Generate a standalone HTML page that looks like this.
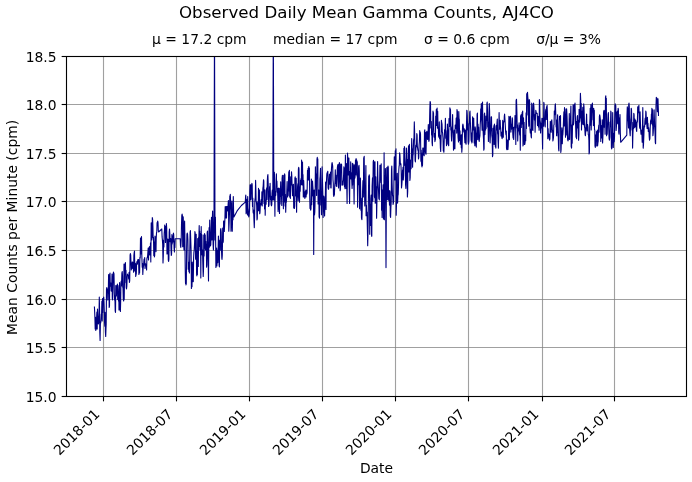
<!DOCTYPE html>
<html lang="en"><head><meta charset="utf-8"><title>Observed Daily Mean Gamma Counts, AJ4CO</title>
<style>
html,body{margin:0;padding:0;background:#fff;}
body{width:692px;height:482px;overflow:hidden;}
svg{display:block;}
text{font-family:"DejaVu Sans","Liberation Sans",sans-serif;fill:#000;}
.t10{font-size:13.889px;}
.t12{font-size:16.667px;}
.grid line{stroke:#808080;stroke-width:1.11;stroke-opacity:0.75;}
.tick line{stroke:#000;stroke-width:1.11;}
</style></head><body>
<svg width="692" height="482" viewBox="0 0 692 482">
<rect x="0" y="0" width="692" height="482" fill="#ffffff"/>
<defs><clipPath id="ax"><rect x="66.5" y="56.5" width="620" height="340"/></clipPath></defs>

<g class="grid">
<line x1="103.5" y1="56.5" x2="103.5" y2="396.5"/>
<line x1="176.5" y1="56.5" x2="176.5" y2="396.5"/>
<line x1="249.5" y1="56.5" x2="249.5" y2="396.5"/>
<line x1="322.5" y1="56.5" x2="322.5" y2="396.5"/>
<line x1="395.5" y1="56.5" x2="395.5" y2="396.5"/>
<line x1="468.5" y1="56.5" x2="468.5" y2="396.5"/>
<line x1="542.5" y1="56.5" x2="542.5" y2="396.5"/>
<line x1="614.5" y1="56.5" x2="614.5" y2="396.5"/>
<line x1="66.5" y1="347.5" x2="686.5" y2="347.5"/>
<line x1="66.5" y1="299.5" x2="686.5" y2="299.5"/>
<line x1="66.5" y1="250.5" x2="686.5" y2="250.5"/>
<line x1="66.5" y1="201.5" x2="686.5" y2="201.5"/>
<line x1="66.5" y1="153.5" x2="686.5" y2="153.5"/>
<line x1="66.5" y1="104.5" x2="686.5" y2="104.5"/>
</g>
<g clip-path="url(#ax)"><polyline fill="none" stroke="#000080" stroke-width="1.11" stroke-linejoin="round" stroke-linecap="butt" points="94.4,306.5 94.7,312.7 94.9,317.5 95.2,329 95.5,317.4 95.8,330.5 96.1,329 96.3,319.1 96.6,318 96.9,312.1 97.2,329 97.5,309 97.8,315.6 98.1,318.6 98.4,324 98.7,322.1 99,317 99.3,297 99.6,311.2 99.8,332.6 100.1,340.5 100.4,323.3 100.7,322.9 101,320 101.3,314 101.6,314 101.9,301.3 102.2,321 102.5,298.5 102.8,312.5 103.1,298.5 103.4,298.7 103.7,297 104,302.6 104.2,308.6 104.5,321.5 104.8,326.1 105.1,312.2 105.4,331.8 105.7,336.5 106,328.1 106.2,324 106.5,289 106.8,287.5 107.1,289 107.5,289 107.8,300 108,289 108.3,293 108.6,274.5 108.9,278.7 109.2,307.5 109.5,306 109.7,274.5 110,273 110.3,286.3 110.6,285.6 110.9,283.1 111.2,291 111.5,291.1 111.7,286.3 112,274 112.3,298.5 112.6,300 112.9,287.8 113.2,273.9 113.5,272 113.8,273.5 114,274.2 114.3,292.5 114.6,300 114.9,295.7 115.2,311 115.5,312.5 115.8,285.5 116.1,288.4 116.4,296 116.7,285.5 117.1,285.5 117.4,284 117.7,299.5 118,285.5 118.2,293.2 118.5,301 118.8,291.4 119,310 119.3,290 119.6,282.5 119.8,310 120.1,297.9 120.4,311.5 120.7,299.7 120.9,284.3 121.2,281 121.5,285.9 121.9,273 122.2,271.5 122.5,276 122.7,286.9 123,288 123.3,299.5 123.7,301 124,264 124.2,299.5 124.5,280 124.8,282.7 125.1,264 125.4,262.5 125.7,272.7 126,270.3 126.2,287.5 126.5,289 126.8,286.5 127.2,276.5 127.5,274 127.8,275.5 128.1,275.5 128.4,275.6 128.7,279 129.1,272.4 129.4,282.5 129.7,281 130.1,255 130.4,253.5 130.7,255 131,263.2 131.3,270 131.6,266.6 131.9,268.5 132.2,262.1 132.5,262 132.8,262.6 133,268.5 133.3,268 133.6,272.1 133.9,255.6 134.2,252.5 134.5,251 134.8,270.9 135.1,267.5 135.4,263.2 135.7,276.5 136,275 136.3,273.7 136.6,264 136.9,261.5 137.1,261.5 137.4,264.3 137.7,260 138,259.5 138.3,259.5 138.6,259.5 138.9,274.5 139.2,264.8 139.6,273 139.9,257.4 140.2,258 140.5,238.1 140.8,254 141.2,242.5 141.5,236.5 141.8,254.3 142.2,267.3 142.5,263.3 142.8,274.5 143.1,268.9 143.5,265.7 143.8,262 144.1,259 144.4,265 144.7,257.5 145,268.5 145.3,263.5 145.6,264 145.9,264.3 146.3,266.1 146.6,270 146.9,258.5 147.3,257.5 147.6,256 147.9,252.1 148.2,248 148.5,260 148.8,249.7 149.2,248 149.5,246.5 149.8,255 150.2,254.9 150.5,242.8 150.8,262 151.2,222.9 151.5,240 151.8,232.4 152,237.8 152.3,217.5 152.6,219 152.9,226.8 153.2,240 153.5,237.4 153.8,255.5 154.1,241.7 154.4,257 154.7,255.5 155,236 155.3,237.4 155.7,245 156,251.6 156.2,238.8 156.5,232.8 156.8,232 157.1,222.5 157.4,222.5 157.7,221 158,222.5 158.3,230.5 158.6,232 161.8,229 162.1,236.9 162.4,240 162.7,244.2 163,263 163.3,255.9 163.6,240 163.9,246.9 164.2,233.5 164.5,230 164.7,225 165,228 165.3,226.2 165.5,242.5 165.8,236 166.1,235.6 166.4,223.5 166.7,228.6 167,254 167.3,253.7 167.5,239.1 167.8,240 168.1,239.2 168.3,260 168.6,261.5 168.9,259.3 169.2,232.2 169.5,229 169.8,233.5 170.1,241.6 170.4,240 170.7,238.6 171,249.1 171.3,255.5 171.6,254 171.9,234.5 172.2,243.9 172.5,236 172.8,242.3 173.1,239 173.4,233 173.7,234.5 174.1,248.3 174.4,252 174.7,241.1 174.9,247.4 175.2,238.7 180.2,238.7 180.5,246 180.8,247.5 181.2,239.3 181.5,225 181.8,215.5 182.1,214 182.4,215.5 182.7,246.8 183,240 183.2,216.8 183.5,225 183.8,245.8 184,250 184.3,244.1 184.6,221 184.9,239.1 185.2,267 185.5,283.5 185.7,280.3 186,285 186.3,283.5 186.6,250 186.9,234.5 187.2,233 187.6,234.5 187.9,240 188.2,269.2 188.6,262 188.9,271.5 189.1,263.2 189.4,273 189.7,257.9 190.1,232 190.4,230.5 190.7,238.8 191.1,251.1 191.4,288.5 191.7,275.7 192,286.8 192.3,262 192.6,269.5 193,281.7 193.3,281.5 193.6,258.1 193.9,252.5 194.2,250 194.6,242.9 194.9,231.5 195.2,233 195.6,259.2 195.9,236 196.2,234.3 196.6,274.5 196.9,276 197.2,250.2 197.4,274.5 197.7,238.5 198,245 198.3,266.4 198.6,237.4 198.9,236.7 199.2,225.5 199.5,246.4 199.7,231 200,250 200.3,241.3 200.5,233.6 200.8,278 201.2,226.5 201.5,254.8 201.9,234.8 202.2,255 202.5,249.7 202.8,262 203.2,276.5 203.5,270 203.8,235 204.1,255.9 204.3,236.1 204.6,233.5 204.9,248.2 205.2,235 205.5,250 205.8,241.2 206,248.5 206.3,244 206.6,267.2 206.9,264.6 207.2,232.5 207.5,231 207.8,248.5 208.2,262.6 208.5,281 208.8,243.8 209.1,227.6 209.4,247.3 209.7,220 210,232.8 210.2,234.9 210.5,246 210.8,244.5 211.2,228 211.5,217.2 211.8,240 212.1,239.8 212.3,220.8 212.6,211 212.9,223.1 213.1,244.5 213.4,250 213.7,240.2 214,225 214.5,20 215,240 215.4,217 215.7,246.6 215.9,267.5 216.2,262.1 216.6,248 216.9,266 217.2,261 217.5,250.4 217.8,262.6 218.1,250.7 218.4,236 218.7,241.4 219.1,265.5 219.4,267 219.7,240.9 220,240 220.3,250.2 220.5,230 220.8,228.5 221.2,232.3 221.5,250 221.8,258 222,259.5 222.3,255.3 222.7,228 223,242.6 223.3,241.1 223.6,221 224,221 224.3,231.5 224.6,226 224.9,219.5 225.2,206.5 225.5,218 225.8,218 226.2,206.5 226.5,218 226.8,206.5 227.1,210 227.4,206.5 227.8,211 228.1,205 228.4,200.5 228.8,231.3 229.2,222.1 229.5,212 229.8,195.8 230,208.9 230.3,194.3 230.7,204.2 231,231.3 231.3,221.8 231.6,208 231.9,201 232.3,231.3 232.6,215.5 233,219.7 233.3,196.6 233.6,212.1 233.9,217 237.1,210.9 241.4,205.5 245.3,202.2 245.6,196.5 245.8,195 246.1,213.8 246.4,212.3 246.6,212.3 246.9,199.9 247.2,199 247.5,214.9 247.7,196.5 248,208 248.3,210.3 248.5,215.5 248.8,217 249.1,215.5 249.5,211 249.8,191.5 250.1,184.8 250.5,184.8 250.8,200 251.1,198.5 251.4,184.8 251.6,185.8 251.9,183.3 252.2,184.8 252.5,206.4 252.8,198 253.1,212.2 253.3,213.1 253.6,210 253.9,219 254.3,227.6 254.6,216.4 254.9,200.2 255.3,197.2 255.6,180.4 255.9,190.9 256.1,200.9 256.4,202 256.7,205.8 257,220 257.3,218.5 257.6,203 257.9,201.6 258.2,210.6 258.5,188.4 258.8,210.6 259.1,190.7 259.4,189.9 259.7,213.8 260,212.3 260.4,203.4 260.7,205 261,201 261.3,199.4 261.6,204.9 261.9,191.7 262.2,206 262.5,198.3 262.9,188 263.2,186.1 263.5,179.7 263.8,181.2 264,203.5 264.3,200 264.6,209 264.9,189.8 265.2,215.2 265.5,200.6 265.8,203.5 266.1,204.3 266.4,191 266.7,187.7 267,199.6 267.3,181.4 267.6,176.1 267.9,174.6 268.2,183.7 268.6,206.5 269,205 269.3,196 269.6,186.6 269.8,194.7 270.1,183.3 270.5,199.7 270.8,196 271.1,204.3 271.5,205.8 271.8,204.3 272,193.3 272.3,190 272.6,194.9 272.8,200 273.3,20 273.8,200 274.1,180 274.4,172.4 274.6,188.1 274.9,216.3 275.2,191.5 275.5,195.8 275.8,195 276.1,179.2 276.4,173.9 276.6,186.3 276.9,181.1 277.2,192.1 277.5,188.3 277.8,198 278.1,211.6 278.3,203 278.6,188 278.9,209.1 279.2,197.7 279.5,213.5 279.8,188.4 280.1,204.1 280.4,193.3 280.7,181.8 281,195.3 281.2,196.3 281.5,196 281.8,205.5 282.1,178.4 282.4,175.3 282.7,195.1 283.1,185.9 283.4,208.7 283.7,175.4 284,185.6 284.3,201.9 284.6,173.9 284.9,175.4 285.1,205.9 285.4,194.2 285.7,212.3 286,201.9 286.2,202.7 286.5,199.9 286.8,192 287.1,181.5 287.3,196.9 287.6,197 287.9,195.5 288.2,195.4 288.5,180 288.8,171.7 289.1,191 289.4,170.2 289.7,197 290.1,197 290.4,198.5 290.7,176.9 291,185 291.3,184 291.5,171.7 291.8,176 292.1,187.1 292.5,195.7 292.8,195 293.1,185.2 293.4,184.2 293.7,208 294,207 294.4,208.5 294.7,205.9 294.9,178.3 295.2,176.8 295.5,182.9 295.9,196 296.2,178.3 296.6,212.3 296.9,192.9 297.3,197 297.6,186 297.9,183.6 298.1,200.5 298.4,168.8 298.7,167.3 299,168.8 299.2,196.7 299.5,202.2 299.8,186.8 300.2,191.3 300.5,180 300.8,184.8 301.1,178.2 301.3,184.8 301.6,160 301.9,183.5 302.2,185 302.5,162.1 302.7,177.3 303,174.6 303.3,197 303.7,180.5 304,190 304.3,197 304.6,195.1 304.9,198.5 305.2,191.5 305.5,197 305.8,190 306.1,197 306.5,190.2 306.8,194.2 307.1,192.7 307.5,170.3 307.8,180 308.1,168.3 308.5,180 308.8,166.6 309.1,176.8 309.4,168.1 309.7,195 310,208.5 310.4,208.7 310.7,210.2 311,208.7 311.4,179 311.7,204.7 311.9,184.6 312.2,196 312.5,181 312.8,186 313.1,190 313.5,200 313.7,254.5 313.9,217.4 314.2,190 314.5,214.9 314.8,211.8 315.1,201.1 315.4,166.8 315.7,180.9 316,173.8 316.3,185 316.6,195.5 317,159 317.3,157.4 317.6,178.3 317.8,158.9 318.1,204 318.5,190 318.8,190 319.1,216.7 319.5,218.2 319.9,179.1 320.2,176 320.5,168.3 320.9,205 321.2,192.6 321.5,214.8 321.8,201.5 322.1,166.8 322.4,178.4 322.8,193.6 323.1,217.5 323.5,204.9 323.8,196 324.1,197.5 324.3,209.9 324.6,216 325,202.4 325.3,198 325.6,182.1 326,209.5 326.2,185.9 326.5,180.6 326.8,174.6 327.1,172.7 327.5,172.7 327.8,171.2 328.1,187.8 328.5,189.3 328.8,187.8 329.1,179.2 329.4,174.2 329.7,184.2 330,174.1 330.3,175 330.6,172.1 330.8,187.8 331.1,188 331.4,169.9 331.8,164.2 332.1,162.5 332.4,164 332.7,166.4 333,180 333.3,183.2 333.5,195 333.8,196.5 334.1,195 334.4,195 334.7,186 335,182 335.3,169.8 335.6,183.4 335.9,175 336.2,186 336.5,180.8 336.8,186.5 337.1,175.8 337.4,167.3 337.7,165.4 338,164.5 338.3,180.2 338.6,188 338.9,180.6 339.1,164 339.4,162.5 339.8,171.4 340.1,190.8 340.4,189.3 340.7,164 341,170.6 341.3,164 341.6,164.7 341.9,185.1 342.1,180.9 342.4,185 342.7,185 343,184.9 343.3,179.9 343.6,175.4 343.9,166.8 344.2,168.3 344.5,186.4 344.8,187 345.1,188.8 345.4,155.1 345.7,185.7 346,170 346.3,188.5 346.6,163.5 346.8,187.9 347.1,203.4 347.5,153.1 347.9,159.4 348.2,175 348.5,158.3 348.9,158 349.2,186.8 349.6,203.4 349.9,171.5 350.1,178.8 350.4,176 350.7,161.8 351,179 351.2,172.7 351.5,172.9 351.8,182 352.1,188.4 352.4,163.3 352.6,185 352.9,163.8 353.2,164.7 353.5,166.2 353.8,184.5 354.1,204 354.4,174.5 354.6,164.7 354.9,178.3 355.2,175 355.5,160.1 355.8,174.8 356.1,158.6 356.4,160.1 356.7,160.1 357,176 357.3,161.8 357.6,207.3 358,183.2 358.3,185 358.6,166.9 359,165.4 359.3,171.4 359.6,208.8 359.9,179.3 360.1,185.4 360.4,178 360.7,191.7 360.9,210.3 361.2,198 361.5,218.2 361.9,219.7 362.2,209.2 362.6,190 362.9,181.4 363.1,180.4 363.4,197 363.7,157.8 363.9,157.8 364.2,156.3 364.5,189.2 364.8,206 365.1,192.4 365.3,199.1 365.6,185 365.9,165.5 366.1,215.8 366.4,205 366.7,214.4 367,212 367.4,229.7 367.7,245.8 368,231.5 368.4,200 368.7,176.3 368.9,176.3 369.2,174.8 369.5,176.3 369.7,234.2 370,204 370.3,210.6 370.6,225.5 370.9,198.9 371.2,195 371.5,234.9 371.8,236.4 372.1,186.3 372.5,177.7 372.8,201.2 373.2,161.8 373.5,160.3 373.8,168.5 374.1,161.8 374.4,196.5 374.7,198 375,161.8 375.2,203.2 375.5,185 375.8,176.7 376.1,202.6 376.3,186.6 376.6,218.2 376.9,203.3 377.3,183.7 377.6,161.5 377.9,180.2 378.2,185.4 378.5,190 378.8,198.5 379,198.5 379.3,200 379.6,185.8 379.9,165.4 380.2,180 380.5,165.4 380.9,182.6 381.2,163.9 381.6,210.2 381.9,193.5 382.1,217.5 382.4,190 382.7,200.8 383.1,184.7 383.4,219 383.8,209.7 384.1,152.8 384.4,219.8 384.8,180.2 385.1,201 385.4,168.5 385.6,185 386,267.6 386.4,190 386.8,167.6 387.1,180 387.4,199.8 387.7,167.6 388,166.1 388.3,167.6 388.6,200.3 388.9,190.3 389.2,198 389.5,205.1 389.8,190.8 390,192.2 390.3,216 390.6,217.5 390.9,207.4 391.2,202.4 391.5,170 391.8,166.1 392.1,182.9 392.5,195.2 392.8,196.6 393.1,204.4 393.4,202.9 393.7,201.1 394,172.7 394.3,156.7 394.6,169.9 395,180 395.3,150.8 395.7,165.5 396,148.7 396.2,215.3 396.5,203.4 396.7,189.1 397,185 397.3,173.2 397.6,203.1 397.9,196 398.2,194.5 398.5,186.1 398.8,170 399.1,165.7 399.3,165.7 399.6,152.8 399.9,154.3 400.3,162.7 400.6,165 400.9,163.8 401.2,171.7 401.5,188 401.8,185.1 402.2,179.1 402.5,170 402.8,172 403,167.2 403.3,180 403.6,175.2 403.9,148.3 404.1,165.5 404.4,146.5 404.7,148 404.9,157.5 405.2,163 405.6,185.3 405.9,188.4 406.2,177.6 406.5,148 406.8,154.8 407.1,172.5 407.4,197 407.7,191.8 407.9,159.4 408.2,165 408.5,145.9 408.8,172 409.1,157.2 409.4,144.4 409.6,161.7 409.9,180.5 410.2,177.5 410.6,160 410.9,165.7 411.1,168.7 411.4,155.8 411.7,138.6 412,147.5 412.4,150 412.6,167.2 412.9,155.8 413.2,154.2 413.6,140 414,138.2 414.3,121.9 414.6,131.6 414.9,150 415.1,160.5 415.4,162 415.8,151.6 416.1,145 416.5,146.8 416.8,133.5 417.1,135 417.3,145.7 417.6,148 417.9,150.5 418.2,150.1 418.5,158.9 418.8,157.4 419.1,145 419.4,141.8 419.7,130.6 420,132.1 420.2,132.1 420.5,134 420.9,161.3 421.2,150 421.5,163 421.7,165.5 422,167 422.3,153.1 422.5,165.5 422.8,148 423.1,154.9 423.3,148 423.6,152 423.9,152.8 424.2,155.7 424.5,131.3 424.8,129.8 425.1,148.2 425.5,153 425.8,132.6 426,154.2 426.3,140 426.6,132.1 426.9,131.3 427.2,133.5 427.5,139.4 427.7,138.5 428,137 428.3,124.6 428.6,139 428.9,141.4 429.2,139.9 429.5,125 429.8,110.2 430.1,101.5 430.5,103 430.8,128 431.1,127.5 431.3,121.6 431.6,135 431.9,132 432.1,142.7 432.4,145.8 432.7,127.8 433,111 433.3,114.8 433.5,112.5 433.8,130 434.1,137.1 434.4,133.4 434.6,133.8 434.9,141.6 435.2,139 435.4,140.1 435.7,116.1 436,125 436.3,109.6 436.6,125.4 436.8,109.6 437.1,108.1 437.4,128.1 437.7,111.2 438,128 438.3,127 438.6,136 439,137.4 439.3,121.9 439.6,138.7 440,135 440.4,148 440.7,151.5 441,141 441.4,120.4 441.7,123 442,123.9 442.3,132 442.6,132.9 443,138 443.3,150.8 443.6,150.8 443.9,152.3 444.2,141.3 444.6,130 444.9,129.3 445.1,130.7 445.4,118.2 445.7,138.2 445.9,130.5 446.2,138 446.5,145.8 446.8,142.2 447.1,144.3 447.4,124 447.7,129.7 448,130 448.4,144.3 448.7,145.8 449,118.5 449.3,125 449.6,126.5 449.9,107.8 450.2,109.3 450.5,110.2 450.8,130 451.1,126.8 451.3,135.8 451.6,141 451.9,134.2 452.3,127.5 452.6,114.6 452.9,129.2 453.2,133 453.5,150.2 453.8,148.7 454,141.3 454.3,130 454.6,135.6 454.9,148.7 455.2,125 455.5,128.5 455.9,126.8 456.2,118 456.5,118.8 456.7,133.1 457,109.5 457.3,111 457.5,111.9 457.8,130 458.1,137.6 458.5,142 458.8,111.5 459,118.3 459.3,119.7 459.6,140.5 460,130.9 460.3,144.3 460.6,141.4 461,135 461.3,147.8 461.5,134.7 461.8,152.3 462.1,148 462.4,131.8 462.6,125.5 462.9,124 463.2,125.5 463.5,128.8 463.8,132 464.1,129.7 464.3,128.8 464.6,137 464.9,142.8 465.1,142.8 465.4,130 465.8,142.8 466.1,144.3 466.5,126.3 466.8,110.2 467.1,111.7 467.3,115.6 467.6,130 467.9,123.6 468.1,141.6 468.4,144.3 468.7,142.8 468.9,141.2 469.2,125 469.5,120.1 469.7,112.5 470,111 470.3,119.6 470.5,125.7 470.8,131 471.1,139.9 471.4,141.4 471.6,133.1 471.9,142.9 472.2,141.5 472.6,116.8 472.9,118.3 473.1,118.3 473.4,130 473.7,118.3 473.9,127.5 474.2,143 474.5,135.4 474.8,145.7 475.1,126.9 475.4,128.4 475.7,135 476,145.7 476.3,147.2 476.6,135.2 476.9,131.6 477.1,114.6 477.4,113.1 477.7,139.6 478,124 478.3,130 478.6,127.1 478.9,139.9 479.2,141.4 479.5,138.2 479.9,135.7 480.2,125 480.5,120.4 480.7,108.9 481,117 481.3,103.5 481.5,118.3 481.8,122 482.1,130.2 482.5,102 482.8,121.4 483.1,131 483.5,138.4 483.8,150.2 484.1,148.7 484.3,114.6 484.6,113 484.9,134.6 485.3,124.1 485.6,130 485.9,116.1 486.1,128.5 486.4,120 486.7,120.6 486.9,103.6 487.2,102 487.5,111.2 487.7,127 488,122 488.4,141.4 488.7,130 489,112.8 489.3,103.5 489.6,111 489.9,141.4 490.1,142.9 490.5,132.1 490.8,128 491.1,117 491.5,116.8 491.8,135.1 492.2,138.4 492.5,156.7 492.8,155.2 493,128.2 493.3,135 493.6,129.9 493.9,125.5 494.1,144.4 494.4,124 494.7,126.9 495,135 495.3,146.6 495.6,146.6 495.9,148.1 496.2,125.5 496.6,130 497,122.5 497.3,119.1 497.6,133.5 497.9,135 498.1,142 498.4,148.1 498.8,129.2 499.1,112.6 499.4,124.5 499.6,129.3 499.9,125 500.2,120.4 500.4,126 500.7,128.5 501,135.9 501.4,132 501.8,137.2 502.1,138.7 502.4,136.5 502.7,120.4 503,128 503.3,137.2 503.5,121.9 503.8,122 504.1,121.8 504.3,116.3 504.6,114 505,120.4 505.3,125.6 505.6,131.8 506,135 506.3,131 506.5,148.1 506.8,149.6 507.1,148.1 507.4,140 507.6,148.1 507.9,149.6 508.2,146 508.6,132.4 508.9,116.2 509.2,119.4 509.4,139.7 509.7,125 510,117.7 510.4,116.2 510.7,122.8 510.9,132.1 511.2,124 511.5,129.1 511.9,128.5 512.2,117.7 512.5,119.1 512.8,134 513.1,137.9 513.4,127.4 513.7,139.4 514,133.3 514.4,127 514.7,127.1 515,115.5 515.3,126.1 515.5,116.7 515.8,144.5 516.1,100.7 516.5,99.2 516.9,112.3 517.2,128 517.5,124.9 517.7,141 518,132.4 518.4,130 518.8,127.5 519.1,122.7 519.4,131 519.7,135 520,125.6 520.3,150.3 520.6,116.3 521,114.8 521.3,127.4 521.5,114.5 521.8,124 522.1,112.6 522.4,112.6 522.7,111.1 523,146 523.3,144.5 523.5,117.9 523.8,130 524.1,122.3 524.5,144.5 524.8,144.5 525.1,142.5 525.4,135 525.7,140.8 526.1,112.7 526.4,128.5 526.7,93.8 527,115 527.2,93.8 527.5,92.3 527.8,97.1 528.2,101.1 528.5,120 528.8,126.1 529,111.6 529.3,99.5 529.6,101 530,129.5 530.3,133 530.6,132.4 530.8,129.3 531.1,136.5 531.4,138 531.7,103.1 532,104.6 532.3,129.8 532.6,125 532.9,130.5 533.3,104.6 533.6,103.1 533.9,106.7 534.1,112.6 534.4,120 534.8,114.9 535.1,132.2 535.4,119.5 535.8,110.3 536.1,111.9 536.4,113.4 536.7,113.4 536.9,113.4 537.2,113.3 537.5,125.5 537.8,125.5 538.1,116.2 538.4,127 538.6,125.5 538.9,118 539.1,130.3 539.4,99.5 539.7,101 540,120 540.3,122 540.6,132.9 541,123.3 541.3,125 541.6,127.9 541.9,118.4 542.2,130.3 542.6,148.9 542.9,118.4 543.2,120 543.5,126.3 543.8,102.4 544.1,104.1 544.3,120.8 544.6,118 544.9,125.5 545.2,127 545.5,112.1 545.7,110.1 546,109 546.3,119.4 546.5,106.8 546.8,112.7 547.1,105.3 547.4,113 547.8,138.7 548.1,128.5 548.4,136.9 548.6,135.7 548.9,134 549.2,138.4 549.6,140.2 549.9,138.7 550.3,121.3 550.6,128 550.9,122.9 551.2,132.2 551.5,121.3 551.8,119.8 552.1,125.5 552.3,129.5 552.6,130.8 552.9,140.9 553.2,139.4 553.5,137.2 553.8,125 554.1,124.8 554.3,111 554.6,115 554.9,112.1 555.1,105.4 555.4,103.9 555.8,114.7 556.1,127 556.4,127.2 556.6,135.7 556.9,120 557.2,132.6 557.6,114.8 558,135.7 558.3,137.2 558.6,148.9 558.9,151 559.2,125 559.5,116.3 559.7,116.3 560,118 560.2,119 560.5,115.5 560.8,152.5 561.1,149.6 561.3,141.2 561.6,135 561.9,127.8 562.3,143.8 562.6,135.8 562.9,134.3 563.3,126.6 563.6,118 563.9,111.7 564.2,125.9 564.5,107.5 564.8,113.7 565.2,123 565.5,137.2 565.8,133.3 566,109 566.3,134.9 566.6,108.9 567,115.8 567.3,125 567.6,139.4 568,140.9 568.3,139.4 568.7,138.8 569,130 569.3,113.5 569.6,139.4 569.9,125.6 570.2,125.6 570.6,116 570.9,106 571.2,146.6 571.6,148.1 571.9,125.1 572.2,143.3 572.5,125.7 572.8,119.8 573.1,104.8 573.4,125 573.7,123.5 574,114 574.3,104.6 574.7,108.6 575,103.1 575.3,113.6 575.7,128 576,137.2 576.3,121.6 576.6,138.7 576.9,124.9 577.2,116.9 577.5,115.5 577.9,128 578.2,120.2 578.6,140.2 578.9,134.7 579.1,109.2 579.4,114 579.6,122.1 579.9,120 580.1,110.4 580.4,93.4 580.7,99.7 581,118 581.2,103.2 581.5,130 581.8,111.1 582.2,124.3 582.5,115.5 582.8,107.2 583.1,110 583.4,124.7 583.7,103.9 584,106.7 584.3,118 584.5,127 584.8,128 585.1,134.3 585.4,135.8 585.7,131.5 586,125 586.3,123.1 586.6,114 587,131 587.3,125 587.6,124.5 588,127 588.3,134.7 588.6,135 588.9,140.5 589.1,153.9 589.4,152.4 589.7,125 590,118.6 590.2,108.2 590.5,125.1 590.9,104.6 591.2,130 591.5,119 591.8,120 592.1,104.6 592.4,103.1 592.7,111.2 593.1,112.5 593.4,125.6 593.7,108.3 594,112.3 594.3,110.4 594.5,129.4 594.8,130 595,145.9 595.3,147.4 595.6,135.1 596,135 596.3,145.9 596.5,131.5 596.8,132.9 597.1,141.3 597.3,130 597.6,145.9 597.9,143 598.2,141.5 598.5,128.2 598.8,125 599.1,132.1 599.4,116.3 599.7,114.8 600,116.3 600.4,120 600.8,141.5 601.1,125.6 601.4,128 601.6,137.9 601.9,135 602.2,119.8 602.6,143 603,133.9 603.3,125 603.6,111.9 604,110.4 604.3,127.3 604.5,110.8 604.8,120 605.1,134.3 605.5,97.4 605.8,95.9 606.1,113.2 606.3,98.2 606.6,135.8 606.9,127.3 607.2,134.3 607.5,125 607.8,119.5 608.1,114.1 608.4,112.6 608.7,128.1 609.1,138.7 609.4,140.2 609.8,136.9 610.1,122 610.5,126.6 610.8,111.1 611.1,112.6 611.4,147.4 611.7,148.9 612,147.4 612.4,132 612.7,112.6 613,128.5 613.3,147.4 613.6,136 613.9,133.3 614.2,141.6 614.5,137.1 614.7,120 615,105.4 615.2,103.9 615.5,105.4 615.8,105.4 616.1,130.4 616.4,127 616.7,121.7 617,111.7 617.3,118 617.6,110.7 617.8,123.8 618.1,108.2 618.4,109.7 618.7,132 619,134.3 619.3,118 619.6,128 620,114.6 620.3,132.2 620.7,142.3 626.8,135.1 627,115.6 627.3,106.8 627.6,108.8 627.9,118.9 628.2,122 628.5,128 628.7,104.6 629,103.1 629.3,106.9 629.6,128.7 629.9,132.9 630.2,135.8 630.5,127.3 630.7,120 631,116.8 631.2,108.2 631.5,109.7 631.7,116.9 632,130 632.3,122.4 632.6,148.1 632.9,134.3 633.2,128 633.5,128.7 633.8,113.3 634.1,114.8 634.3,127.6 634.6,122 634.9,119 635.2,127 635.5,123.9 635.7,120.4 636,124 636.4,129.9 636.7,131.4 637,121.8 637.4,122 637.7,106.8 638,112 638.3,112.7 638.6,106.8 638.9,105.3 639.2,119.8 639.6,127.2 639.9,128.5 640.1,111.9 640.4,122 640.7,130.4 641,134.3 641.3,134.2 641.5,130.6 641.8,130 642.2,142.3 642.5,126 642.8,107.5 643.2,148.1 643.5,144.6 643.9,135 644.2,125.9 644.6,127 644.9,121.1 645.2,118 645.5,124.2 645.8,111.1 646.1,112.6 646.4,122 646.8,124.5 647.1,128.5 647.4,117.4 647.7,124 648,123.5 648.3,131.4 648.6,127.5 648.9,130 649.2,136.5 649.5,140.2 649.9,138.7 650.2,128 650.5,122.4 650.8,119.8 651.1,123.8 651.4,114 651.6,115.7 651.9,108.2 652.1,117.4 652.4,125 652.6,109.7 652.9,135.8 653.2,133 653.5,127 653.8,125.1 654.1,109.7 654.4,119.1 654.7,127.1 655,132 655.3,142.3 655.6,143.8 656,105.7 656.3,97.4 656.6,98.9 657,98.3 657.4,111.7 657.7,101 658,98.9 658.2,106 658.4,111 658.5,116"/></g>
<g class="tick">
<line x1="103.5" y1="396.5" x2="103.5" y2="401.36"/>
<line x1="176.5" y1="396.5" x2="176.5" y2="401.36"/>
<line x1="249.5" y1="396.5" x2="249.5" y2="401.36"/>
<line x1="322.5" y1="396.5" x2="322.5" y2="401.36"/>
<line x1="395.5" y1="396.5" x2="395.5" y2="401.36"/>
<line x1="468.5" y1="396.5" x2="468.5" y2="401.36"/>
<line x1="542.5" y1="396.5" x2="542.5" y2="401.36"/>
<line x1="614.5" y1="396.5" x2="614.5" y2="401.36"/>
<line x1="61.64" y1="396.5" x2="66.5" y2="396.5"/>
<line x1="61.64" y1="347.5" x2="66.5" y2="347.5"/>
<line x1="61.64" y1="299.5" x2="66.5" y2="299.5"/>
<line x1="61.64" y1="250.5" x2="66.5" y2="250.5"/>
<line x1="61.64" y1="201.5" x2="66.5" y2="201.5"/>
<line x1="61.64" y1="153.5" x2="66.5" y2="153.5"/>
<line x1="61.64" y1="104.5" x2="66.5" y2="104.5"/>
<line x1="61.64" y1="56.5" x2="66.5" y2="56.5"/>
</g>
<rect x="66.5" y="56.5" width="620.0" height="340.0" fill="none" stroke="#000" stroke-width="1.11" stroke-linejoin="miter"/>
<text class="t10" x="56.6" y="401.6" text-anchor="end">15.0</text>
<text class="t10" x="56.6" y="352.6" text-anchor="end">15.5</text>
<text class="t10" x="56.6" y="304.6" text-anchor="end">16.0</text>
<text class="t10" x="56.6" y="255.6" text-anchor="end">16.5</text>
<text class="t10" x="56.6" y="206.6" text-anchor="end">17.0</text>
<text class="t10" x="56.6" y="158.6" text-anchor="end">17.5</text>
<text class="t10" x="56.6" y="109.6" text-anchor="end">18.0</text>
<text class="t10" x="56.6" y="61.6" text-anchor="end">18.5</text>
<text class="t10" text-anchor="end" transform="translate(100.6,415.0) rotate(-45)">2018-01</text>
<text class="t10" text-anchor="end" transform="translate(173.6,415.0) rotate(-45)">2018-07</text>
<text class="t10" text-anchor="end" transform="translate(246.6,415.0) rotate(-45)">2019-01</text>
<text class="t10" text-anchor="end" transform="translate(319.6,415.0) rotate(-45)">2019-07</text>
<text class="t10" text-anchor="end" transform="translate(392.6,415.0) rotate(-45)">2020-01</text>
<text class="t10" text-anchor="end" transform="translate(465.6,415.0) rotate(-45)">2020-07</text>
<text class="t10" text-anchor="end" transform="translate(539.6,415.0) rotate(-45)">2021-01</text>
<text class="t10" text-anchor="end" transform="translate(611.6,415.0) rotate(-45)">2021-07</text>
<text class="t10" x="376.5" y="473.0" text-anchor="middle">Date</text>
<text class="t10" text-anchor="middle" transform="translate(16.5,227.4) rotate(-90)">Mean Counts per Minute (cpm)</text>
<text class="t12" x="366.5" y="18.0" text-anchor="middle">Observed Daily Mean Gamma Counts, AJ4CO</text>
<text class="t10" x="376.5" y="44.0" text-anchor="middle" xml:space="preserve" style="white-space:pre">μ = 17.2 cpm      median = 17 cpm      σ = 0.6 cpm      σ/μ = 3%</text>
</svg></body></html>
